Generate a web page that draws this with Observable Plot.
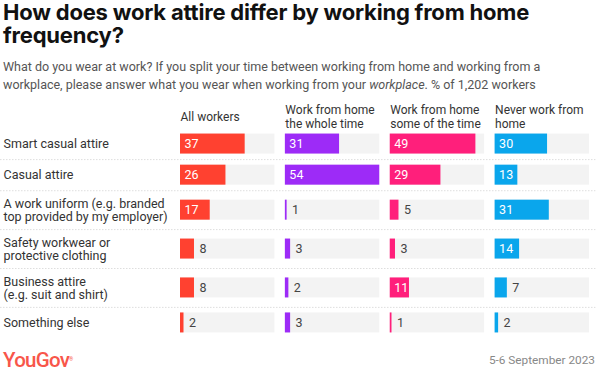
<!DOCTYPE html>
<html><head><meta charset="utf-8">
<script src="https://cdn.jsdelivr.net/npm/d3@7"></script>
<script src="https://cdn.jsdelivr.net/npm/@observablehq/plot@0.6"></script>
<style>
html,body{margin:0;padding:0;background:#fff;}
body{position:relative;width:602px;height:373px;overflow:hidden;font-family:Roboto,"Liberation Sans",sans-serif;}
#title{position:absolute;left:3px;top:0.5px;margin:0;font-family:Inter,sans-serif;font-weight:700;font-size:22px;line-height:23px;color:#111;letter-spacing:-0.2px;white-space:nowrap;}
#title div{height:23px;line-height:23px;}
#subtitle{position:absolute;left:3px;top:58.2px;margin:0;font-size:12.5px;line-height:18px;color:#555;white-space:nowrap;}
#chart{position:absolute;left:0;top:96px;}
#footer{position:absolute;left:3px;right:7px;top:349px;height:22px;display:flex;justify-content:space-between;align-items:center;}
#logo{font-family:Roboto,sans-serif;font-weight:500;font-size:20.5px;line-height:22px;color:#f8564a;letter-spacing:-0.7px;}
#logo sup{font-size:5px;vertical-align:top;position:relative;top:-1px;letter-spacing:0;}
#date{font-size:11.8px;color:#888;}
</style>
</head><body>
<div id="title"><div>How does work attire differ by working from home</div><div>frequency?</div></div>
<p id="subtitle">What do you wear at work? If you split your time between working from home and working from a<br>workplace, please answer what you wear when working from your <i>workplace</i>. % of 1,202 workers</p>
<div id="chart"></div>
<div id="footer"><span id="logo">YouGov<sup>®</sup></span><span id="date">5-6 September 2023</span></div>
<script>
const categories = [
  "Smart casual attire",
  "Casual attire",
  "A work uniform (e.g. branded\ntop provided by my employer)",
  "Safety workwear or\nprotective clothing",
  "Business attire\n(e.g. suit and shirt)",
  "Something else"
];
const groups = [
  "All workers",
  "Work from home\nthe whole time",
  "Work from home\nsome of the time",
  "Never work from\nhome"
];
const allWorkers = [37, 26, 17, 8, 8, 2];
const wfhWholeTime = [31, 54, 1, 3, 2, 3];
const wfhSomeTime = [49, 29, 5, 3, 11, 1];
const neverWfh = [30, 13, 31, 14, 7, 2];
const colors = ["#ff4130", "#9d2bf7", "#ff1f7b", "#0aa6ec"];

const series = [allWorkers, wfhWholeTime, wfhSomeTime, neverWfh];

// row layout derived from number of label lines
let acc = 0;
const rows = categories.map((label) => {
  const lines = label.split("\n").length;
  const units = lines === 1 ? 4 : 5;
  const r = {label, start: acc, end: acc + units, center: acc + units / 2};
  acc += units;
  return r;
});
const total = acc;
const boundaries = rows.slice(1).map(r => r.start);
const half = 1.285;

const data = [];
groups.forEach((g, gi) => {
  series[gi].forEach((v, ri) => {
    data.push({group: g, gi, label: categories[ri], center: rows[ri].center, value: v});
  });
});
const maxValue = d3.max(data, d => d.value);

const chart = Plot.plot({
  width: 602,
  height: 245,
  marginTop: 32,
  marginBottom: 3,
  marginLeft: 180,
  marginRight: 13,
  style: {fontFamily: "Roboto, 'Liberation Sans', sans-serif", fontSize: "12.5px", color: "#333", background: "transparent"},
  fx: {domain: groups, paddingInner: 0.1, paddingOuter: 0, round: false, axis: null, label: null},
  x: {domain: [0, maxValue], axis: null},
  y: {domain: [0, total], reverse: true, axis: null},
  color: {domain: groups, range: colors},
  marks: [
    Plot.ruleY(boundaries, {fx: () => groups[0], y: d => d, stroke: "#dedede", strokeDasharray: "1.5,1.5", insetLeft: -180, insetRight: -321}),
    Plot.rectX(data, {fx: "group", x1: 0, x2: maxValue, y1: d => d.center - half, y2: d => d.center + half, fill: "#f3f3f3"}),
    Plot.rectX(data, {fx: "group", x1: 0, x2: "value", y1: d => d.center - half, y2: d => d.center + half, fill: "group"}),
    Plot.text(data.filter(d => d.value >= 10), {fx: "group", x: 0, y: "center", text: d => String(d.value), textAnchor: "start", dx: 4, fill: "white", fontSize: 12.5}),
    Plot.text(data.filter(d => d.value < 10), {fx: "group", x: "value", y: "center", text: d => String(d.value), textAnchor: "start", dx: 5, fill: "#444", fontSize: 12.5}),
    Plot.text(groups, {fx: d => d, text: d => d, frameAnchor: "top-left", dy: -12, lineAnchor: "middle", textAnchor: "start", fill: "#333", fontSize: 12, lineHeight: 1.12}),
    Plot.text(rows, {fx: () => groups[0], y: "center", text: "label", frameAnchor: "left", textAnchor: "start", dx: -177, lineAnchor: "middle", lineHeight: 1.08, fill: "#333"})
  ]
});
document.getElementById("chart").appendChild(chart);
</script>
</body></html>
